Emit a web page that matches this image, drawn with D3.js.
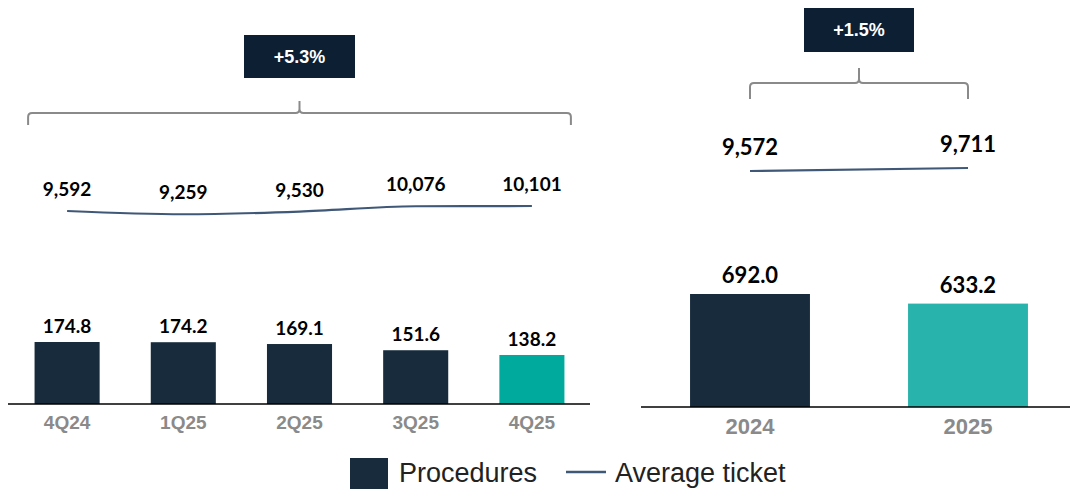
<!DOCTYPE html>
<html>
<head>
<meta charset="utf-8">
<script src="https://cdn.jsdelivr.net/npm/d3@7"></script>
<style>
  body { margin: 0; background: #fff; }
  svg { display: block; }
</style>
</head>
<body>
<svg id="chart" width="1070" height="491"></svg>
<script>
// quarterly data
const quarters = ["4Q24", "1Q25", "2Q25", "3Q25", "4Q25"]
const proceduresQ = [174.8, 174.2, 169.1, 151.6, 138.2]
const ticketQ = [9592, 9259, 9530, 10076, 10101]
const growthQ = "+5.3%"

// yearly data
const years = ["2024", "2025"]
const proceduresY = [692.0, 633.2]
const ticketY = [9572, 9711]
const growthY = "+1.5%"

const legendItems = ["Procedures", "Average ticket"]

const DARK = "#172b3c"
const LINE = "#405878"
const GREY = "#8a8a8a"
const BOX = "#0c1f33"
const numFont = "Lato, 'Open Sans', sans-serif"
const catFont = "'Liberation Sans', Arial, sans-serif"

const svg = d3.select("#chart")
const fmt = d3.format(",")

function bracket(g, x0, x1, y, drop, rise) {
    const xm = (x0 + x1) / 2
    const r = 4
    const p = d3.path()
    p.moveTo(x0, y + drop)
    p.lineTo(x0, y + r)
    p.quadraticCurveTo(x0, y, x0 + r, y)
    p.lineTo(xm - r, y)
    p.quadraticCurveTo(xm, y, xm, y - r)
    p.lineTo(xm, y - rise)
    p.moveTo(xm, y - r)
    p.quadraticCurveTo(xm, y, xm + r, y)
    p.lineTo(x1 - r, y)
    p.quadraticCurveTo(x1, y, x1, y + r)
    p.lineTo(x1, y + drop)
    g.append("path")
        .attr("d", p.toString())
        .attr("fill", "none")
        .attr("stroke", GREY)
        .attr("stroke-width", 2)
}

function growthBox(g, cx, y, w, h, text) {
    g.append("rect")
        .attr("x", cx - w / 2).attr("y", y)
        .attr("width", w).attr("height", h)
        .attr("fill", BOX)
    g.append("text")
        .attr("x", cx).attr("y", y + h / 2)
        .attr("text-anchor", "middle")
        .attr("dominant-baseline", "central")
        .attr("fill", "#fff")
        .style("font-family", catFont)
        .style("font-weight", "bold")
        .style("font-size", "18px")
        .text(text)
}

function panel(opts) {
    const g = svg.append("g")
    const x = d3.scaleBand()
        .domain(opts.cats)
        .range(opts.xRange)
        .paddingInner(opts.padIn)
        .paddingOuter(opts.padIn / 2)
    const y = d3.scaleLinear().domain(opts.barDomain).range([opts.base, opts.base - opts.barPx])
    const yl = d3.scaleLinear().domain(opts.lineDomain).range(opts.lineRange)
    const cx = d => x(d) + x.bandwidth() / 2

    // bars
    g.selectAll("rect.bar")
        .data(opts.bars)
        .enter()
        .append("rect")
        .attr("class", "bar")
        .attr("x", (d, i) => x(opts.cats[i]))
        .attr("y", d => y(d))
        .attr("width", x.bandwidth())
        .attr("height", d => y(0) - y(d))
        .attr("fill", (d, i) => i === opts.bars.length - 1 ? opts.lastColor : DARK)

    g.selectAll("text.barlab")
        .data(opts.bars)
        .enter()
        .append("text")
        .attr("x", (d, i) => cx(opts.cats[i]))
        .attr("y", d => y(d) - opts.barLabOff)
        .attr("text-anchor", "middle")
        .style("font-family", numFont)
        .style("font-weight", "bold")
        .style("font-size", opts.numSize + "px")
        .attr("fill", "#000")
        .text(d => d.toFixed(1))

    // axis
    const axis = d3.axisBottom(x).tickSize(0).tickPadding(opts.tickPad)
    const ax = g.append("g").attr("transform", `translate(0,${opts.base})`).call(axis)
    ax.select(".domain").remove()
    ax.selectAll("text")
        .attr("fill", GREY)
        .style("font-family", catFont)
        .style("font-weight", "bold")
        .style("font-size", opts.catSize + "px")
    g.append("line")
        .attr("x1", opts.axisX[0]).attr("x2", opts.axisX[1])
        .attr("y1", opts.base).attr("y2", opts.base)
        .attr("stroke", "#000").attr("stroke-width", 1.5)

    // average ticket line
    const line = d3.line()
        .x((d, i) => cx(opts.cats[i]))
        .y(d => yl(d))
        .curve(d3.curveMonotoneX)
    g.append("path")
        .datum(opts.line)
        .attr("d", line)
        .attr("fill", "none")
        .attr("stroke", LINE)
        .attr("stroke-width", 2.2)

    g.selectAll("text.linelab")
        .data(opts.line)
        .enter()
        .append("text")
        .attr("x", (d, i) => cx(opts.cats[i]))
        .attr("y", d => yl(d) - opts.lineLabOff)
        .attr("text-anchor", "middle")
        .style("font-family", numFont)
        .style("font-weight", "bold")
        .style("font-size", opts.numSize + "px")
        .attr("fill", "#000")
        .text(d => fmt(d))

    const first = cx(opts.cats[0]) - opts.brExtra
    const last = cx(opts.cats[opts.cats.length - 1]) + opts.brExtra
    bracket(g, first, last, opts.brY, opts.brDrop, opts.brRise)
    growthBox(g, (first + last) / 2, opts.boxY, opts.boxW, opts.boxH, opts.growth)
}

panel({
    cats: quarters, bars: proceduresQ, line: ticketQ, growth: growthQ,
    xRange: [9, 590], padIn: 0.44, base: 404, barDomain: [0, 174.8], barPx: 62,
    lineDomain: [9592, 10101], lineRange: [211, 206],
    axisX: [8, 590], lastColor: "#00ab9e",
    numSize: 19, catSize: 19, tickPad: 12, barLabOff: 9, lineLabOff: 15,
    brExtra: 39, brY: 113, brDrop: 12, brRise: 12,
    boxY: 35, boxW: 111, boxH: 43
})

panel({
    cats: years, bars: proceduresY, line: ticketY, growth: growthY,
    xRange: [641, 1077], padIn: 0.45, base: 407, barDomain: [0, 692], barPx: 113,
    lineDomain: [9572, 9711], lineRange: [171, 168],
    axisX: [641, 1070], lastColor: "#28b3ac",
    numSize: 22, catSize: 22, tickPad: 11, barLabOff: 11, lineLabOff: 16,
    brExtra: 0, brY: 83, brDrop: 16, brRise: 15,
    boxY: 8, boxW: 110, boxH: 44
})

// legend
const lg = svg.append("g").attr("transform", "translate(350,473)")
lg.append("rect").attr("x", 0).attr("y", -15).attr("width", 38).attr("height", 31).attr("fill", DARK)
lg.append("text").attr("x", 49).attr("y", 0)
    .attr("dominant-baseline", "central")
    .style("font-family", catFont).style("font-size", "27px").attr("fill", "#222")
    .text(legendItems[0])
lg.append("line").attr("x1", 216).attr("x2", 256).attr("y1", -1).attr("y2", -1)
    .attr("stroke", LINE).attr("stroke-width", 2.5)
lg.append("text").attr("x", 265).attr("y", 0)
    .attr("dominant-baseline", "central")
    .style("font-family", catFont).style("font-size", "27px").attr("fill", "#222")
    .text(legendItems[1])
</script>
</body>
</html>
